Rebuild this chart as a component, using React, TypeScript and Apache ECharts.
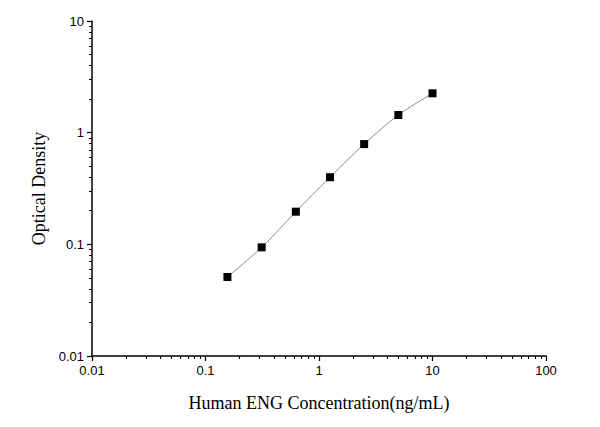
import React, { useEffect, useRef } from 'react';
import * as echarts from 'echarts';

// standard curve readings (ng/mL vs OD)
const concentrations = [0.156, 0.3125, 0.625, 1.25, 2.5, 5, 10];
const odValues = [0.051, 0.094, 0.196, 0.399, 0.79, 1.44, 2.25];

// minor ticks between decades (2..9 per decade)
const xMinorTicks = [0.01, 0.1, 1, 10].flatMap((d) => [2, 3, 4, 5, 6, 7, 8, 9].map((m) => m * d));
const yMinorTicks = [0.01, 0.1, 1].flatMap((d) => [2, 3, 4, 5, 6, 7, 8, 9].map((m) => m * d));

const tickFont = 'Liberation Sans, Arial, sans-serif';
const titleFont = 'Liberation Serif, Times New Roman, serif';

const App: React.FC = () => {
  const chartRef = useRef<HTMLDivElement>(null);

  useEffect(() => {
    document.body.style.margin = '0';
    if (!chartRef.current) return;
    const chart = echarts.init(chartRef.current, undefined, { renderer: 'svg' });

    const axisLine = { show: true, lineStyle: { color: '#000', width: 1.5 } };

    chart.setOption({
      animation: false,
      backgroundColor: '#fff',
      grid: { left: 92, right: 54, top: 21, bottom: 71 },
      xAxis: [
        {
          type: 'log',
          logBase: 10,
          min: 0.01,
          max: 100,
          name: 'Human ENG Concentration(ng/mL)',
          nameLocation: 'middle',
          nameGap: 38,
          nameTextStyle: { fontFamily: titleFont, fontSize: 18, color: '#000' },
          axisLine,
          axisTick: { show: true, inside: false, length: 5, lineStyle: { color: '#000', width: 1.2 } },
          axisLabel: {
            color: '#000',
            fontFamily: tickFont,
            fontSize: 13,
            margin: 8,
            formatter: (v: number) => String(v),
          },
          splitLine: { show: false },
        },
        {
          type: 'log',
          logBase: 10,
          min: 0.01,
          max: 100,
          position: 'bottom',
          axisLine: { show: false },
          axisTick: {
            show: true,
            length: 3,
            customValues: xMinorTicks,
            lineStyle: { color: '#000', width: 1 },
          },
          axisLabel: { show: false },
          splitLine: { show: false },
        },
      ],
      yAxis: [
        {
          type: 'log',
          logBase: 10,
          min: 0.01,
          max: 10,
          name: 'Optical Density',
          nameLocation: 'middle',
          nameGap: 44,
          nameRotate: 90,
          nameTextStyle: { fontFamily: titleFont, fontSize: 18, color: '#000' },
          axisLine,
          axisTick: { show: true, inside: false, length: 5, lineStyle: { color: '#000', width: 1.2 } },
          axisLabel: {
            color: '#000',
            fontFamily: tickFont,
            fontSize: 13,
            margin: 8,
            formatter: (v: number) => String(v),
          },
          splitLine: { show: false },
        },
        {
          type: 'log',
          logBase: 10,
          min: 0.01,
          max: 10,
          position: 'left',
          axisLine: { show: false },
          axisTick: {
            show: true,
            length: 3,
            customValues: yMinorTicks,
            lineStyle: { color: '#000', width: 1 },
          },
          axisLabel: { show: false },
          splitLine: { show: false },
        },
      ],
      series: [
        {
          type: 'line',
          xAxisIndex: 0,
          yAxisIndex: 0,
          data: concentrations.map((c, i) => [c, odValues[i]]),
          smooth: 0.3,
          symbol: 'rect',
          symbolSize: 8,
          itemStyle: { color: '#000' },
          lineStyle: { color: '#8a8a8a', width: 1 },
        },
      ],
    });

    return () => {
      chart.dispose();
    };
  }, []);

  return <div ref={chartRef} style={{ width: 600, height: 427 }} />;
};

export default App;
